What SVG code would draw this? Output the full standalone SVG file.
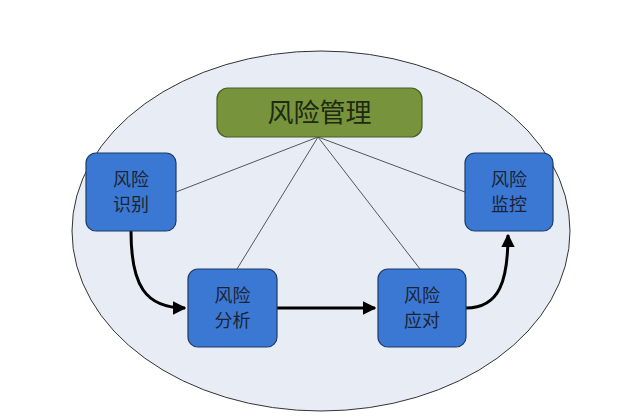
<svg xmlns="http://www.w3.org/2000/svg" width="622" height="418" viewBox="0 0 622 418">
<style>
.blue{fill:#3b78d3;stroke:#1d3a66;stroke-width:1.2}
.green{fill:#77933c;stroke:#4a5e26;stroke-width:1.2}
.t{font-family:"Noto Sans CJK SC","Noto Sans CJK JP",sans-serif;fill:#1c2433;text-anchor:middle;font-size:18px}
.thin{stroke:#444;stroke-width:0.9;fill:none}
.thick{stroke:#000;stroke-width:3;fill:none}
</style>
<defs>
<marker id="ah" viewBox="0 0 10 10" refX="9" refY="5" markerWidth="4.5" markerHeight="4.5" orient="auto" markerUnits="strokeWidth">
<path d="M0,0 L10,5 L0,10 z" fill="#000"/>
</marker>
</defs>
<rect width="622" height="418" fill="#fff"/>
<ellipse id="bg" cx="321" cy="231" rx="249" ry="180" fill="#e8edf5" stroke="#333" stroke-width="1"/>
<g id="connectors">
<line class="thin" x1="318" y1="137" x2="176" y2="192"/>
<line class="thin" x1="318" y1="137" x2="237" y2="269"/>
<line class="thin" x1="318" y1="137" x2="420" y2="269"/>
<line class="thin" x1="318" y1="137" x2="465" y2="192"/>
<path class="thick" d="M131,231 C131,285 145,308 185,308" marker-end="url(#ah)"/>
<line class="thick" x1="277" y1="308" x2="375" y2="308" marker-end="url(#ah)"/>
<path class="thick" d="M466,308 C500,308 508,280 508,235" marker-end="url(#ah)"/>
</g>
<g id="n0">
<rect class="green" x="217" y="88" width="205" height="49" rx="11"/>
<text class="t" x="319.5" y="122" style="font-size:26px;fill:#1e2a12">风险管理</text>
</g>
<g id="n1">
<rect class="blue" x="86" y="153" width="90" height="78" rx="10"/>
<text class="t" x="131" y="186">风险</text>
<text class="t" x="131" y="211">识别</text>
</g>
<g id="n2">
<rect class="blue" x="188" y="269" width="89" height="78" rx="10"/>
<text class="t" x="232.5" y="302">风险</text>
<text class="t" x="232.5" y="327">分析</text>
</g>
<g id="n3">
<rect class="blue" x="378" y="269" width="88" height="78" rx="10"/>
<text class="t" x="422" y="302">风险</text>
<text class="t" x="422" y="327">应对</text>
</g>
<g id="n4">
<rect class="blue" x="465" y="153" width="88" height="78" rx="10"/>
<text class="t" x="509" y="186">风险</text>
<text class="t" x="509" y="211">监控</text>
</g>
</svg>
